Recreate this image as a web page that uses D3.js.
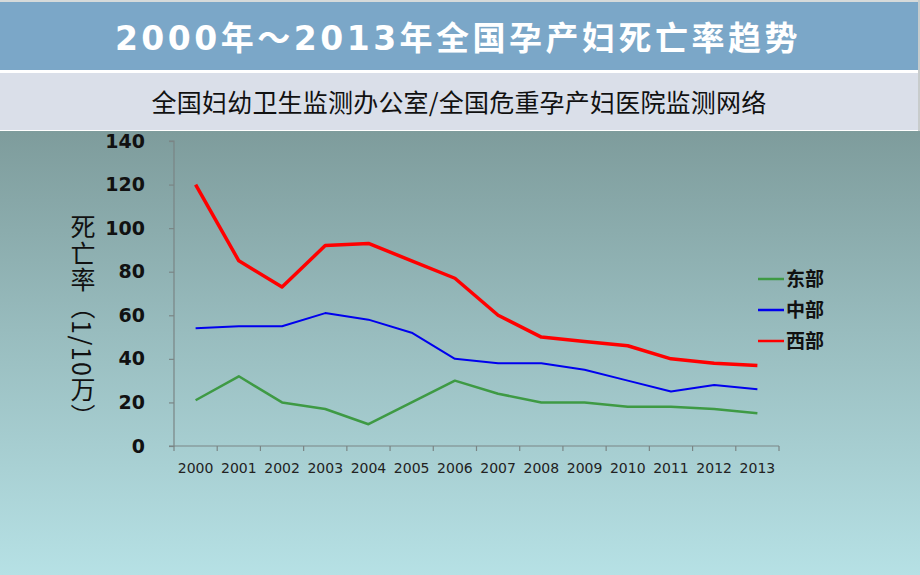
<!DOCTYPE html>
<html><head><meta charset="utf-8">
<script src="https://cdn.jsdelivr.net/npm/d3@7"></script>
<style>html,body{margin:0;padding:0;background:#fff;}svg{display:block;}</style>
</head><body>
<script>
const years = ["2000","2001","2002","2003","2004","2005","2006","2007","2008","2009","2010","2011","2012","2013"];
const east = [21,32,20,17,10,20,30,24,20,20,18,18,17,15];
const central = [54,55,55,61,58,52,40,38,38,35,30,25,28,26];
const west = [120,85,73,92,93,85,77,60,50,48,46,40,38,37];
const yTicks = [0,20,40,60,80,100,120,140];
const seriesNames = ["东部","中部","西部"];
const seriesColors = ["#3E9A44","#0000EE","#FF0000"];
const seriesWidths = [2.5,2,3.5];
const series = [east, central, west];

const W=920,H=575;
const svg=d3.select("body").append("svg").attr("width",W).attr("height",H);
const defs=svg.append("defs");
const g=defs.append("linearGradient").attr("id","bg").attr("x1",0).attr("y1",0).attr("x2",0).attr("y2",1);
g.append("stop").attr("offset","0%").attr("stop-color","#7E9C9C");
g.append("stop").attr("offset","45%").attr("stop-color","#98BCBE");
g.append("stop").attr("offset","100%").attr("stop-color","#B6E1E5");

svg.append("rect").attr("x",0).attr("y",0).attr("width",W).attr("height",H).attr("fill","#fff");
svg.append("rect").attr("x",0).attr("y",0).attr("width",W).attr("height",2).attr("fill","#D6DADA");
svg.append("rect").attr("x",0).attr("y",2).attr("width",918).attr("height",68).attr("fill","#7BA7C8");
svg.append("rect").attr("x",0).attr("y",73).attr("width",918).attr("height",57).attr("fill","#DADFE9");
svg.append("rect").attr("x",918).attr("y",0).attr("width",2).attr("height",131).attr("fill","#C8CCCC");
svg.append("rect").attr("x",0).attr("y",131).attr("width",W).attr("height",H-131).attr("fill","url(#bg)");

const title=svg.append("text").attr("x",458).attr("y",50).attr("text-anchor","middle")
  .attr("font-family","'Noto Sans CJK SC', sans-serif").attr("font-weight","bold")
  .attr("font-size",33).attr("fill","#fff").attr("letter-spacing",3.5);
title.append("tspan").attr("font-family","'DejaVu Sans', sans-serif").text("2000");
title.append("tspan").text("年～");
title.append("tspan").attr("font-family","'DejaVu Sans', sans-serif").text("2013");
title.append("tspan").text("年全国孕产妇死亡率趋势");

svg.append("text").attr("x",459).attr("y",112).attr("text-anchor","middle")
  .attr("font-family","'Noto Sans CJK SC', sans-serif").attr("font-size",25).attr("fill","#111")
  .attr("letter-spacing",0.2)
  .text("全国妇幼卫生监测办公室/全国危重孕产妇医院监测网络");

const x=d3.scaleBand().domain(years).range([174,779]);
const y=d3.scaleLinear().domain([0,140]).range([446,141]);

const axisColor="#7A8585";
const ya=svg.append("g").attr("transform","translate(174,0)")
  .call(d3.axisLeft(y).tickValues(yTicks).tickSize(5).tickPadding(24));
ya.select(".domain").attr("stroke",axisColor).attr("stroke-width",1.2).attr("d","M-5,141H0V446H-5");
ya.selectAll(".tick line").attr("stroke",axisColor).attr("stroke-width",1.2);
ya.selectAll(".tick text").attr("font-family","'DejaVu Sans', sans-serif").attr("font-weight","bold")
  .attr("font-size",19).attr("fill","#111");

const xa=svg.append("g").attr("transform","translate(0,446)")
  .call(d3.axisBottom(x).tickSize(0).tickPadding(17));
xa.select(".domain").attr("stroke",axisColor).attr("stroke-width",1.2).attr("d","M174,0H779");
xa.selectAll(".tick text").attr("font-family","'DejaVu Sans', sans-serif").attr("font-size",14).attr("fill","#222");
const bounds=years.map(d=>x(d)).concat([x(years[years.length-1])+x.bandwidth()]);
svg.append("g").selectAll("line").data(bounds).join("line")
  .attr("x1",d=>d).attr("x2",d=>d).attr("y1",446).attr("y2",451)
  .attr("stroke",axisColor).attr("stroke-width",1.2);

svg.append("text").attr("x",83).attr("y",214)
  .attr("font-family","'Noto Sans CJK SC', sans-serif").attr("font-size",25).attr("fill","#111")
  .attr("letter-spacing",1.5)
  .style("writing-mode","vertical-rl").style("text-orientation","mixed")
  .text("死亡率（1/10万）");

const line=d3.line().x((d,i)=>x(years[i])+x.bandwidth()/2).y(d=>y(d));
series.forEach((s,k)=>{
  svg.append("path").datum(s).attr("d",line).attr("fill","none")
    .attr("stroke",seriesColors[k]).attr("stroke-width",seriesWidths[k]).attr("stroke-linejoin","round");
});

const leg=svg.append("g");
seriesNames.forEach((n,k)=>{
  const yy=279+k*31;
  leg.append("line").attr("x1",758).attr("x2",784).attr("y1",yy).attr("y2",yy)
    .attr("stroke",seriesColors[k]).attr("stroke-width",2.5);
  leg.append("text").attr("x",786).attr("y",yy+7).attr("font-family","'Noto Sans CJK SC', sans-serif")
    .attr("font-weight","bold").attr("font-size",19).attr("fill","#111").text(n);
});
</script>
</body></html>
